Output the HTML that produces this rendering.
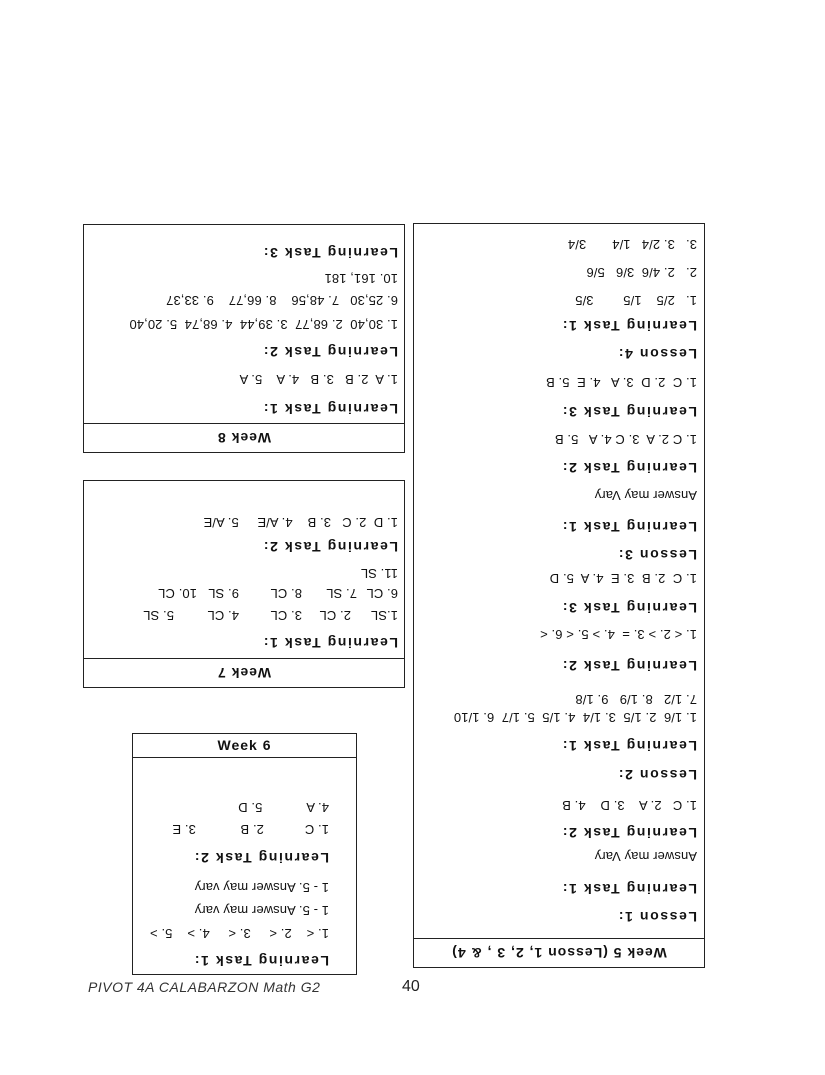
<!DOCTYPE html>
<html><head><meta charset="utf-8"><style>
body{margin:0;background:#fff;}
#p{position:relative;width:825px;height:1075px;overflow:hidden;background:#fff;font-family:"Liberation Sans",sans-serif;color:#111;}
.b{position:absolute;box-sizing:border-box;}
.r{transform:rotate(180deg);}
.l{position:absolute;white-space:pre;font-size:13px;line-height:16px;letter-spacing:0.1px;}
.h{font-weight:bold;font-size:14px;letter-spacing:1.6px;}
.hd{position:absolute;left:0;right:0;top:0;height:28px;border-bottom:1px solid #222;text-align:center;font-weight:bold;font-size:14px;line-height:28px;letter-spacing:1px;}
</style></head><body><div id="p">

<!-- Week 5 -->
<div class="b r" style="left:413px;top:223px;width:292px;height:745px;border:1px solid #222;">
<div class="hd">Week 5 (Lesson 1, 2, 3 , &amp; 4)</div>
<div class="l h" style="left:7px;top:42px">Lesson 1:</div>
<div class="l h" style="left:7px;top:70px">Learning Task 1:</div>
<div class="l" style="left:7px;top:103px">Answer may Vary</div>
<div class="l h" style="left:7px;top:126px">Learning Task 2:</div>
<div class="l" style="left:7px;top:154px">1. C   2. A    3. D    4. B</div>
<div class="l h" style="left:7px;top:184px">Lesson 2:</div>
<div class="l h" style="left:7px;top:213px">Learning Task 1:</div>
<div class="l" style="left:7px;top:242px">1. 1/6  2. 1/5  3. 1/4  4. 1/5  5. 1/7  6. 1/10</div>
<div class="l" style="left:7px;top:260px">7. 1/2   8. 1/9   9. 1/8</div>
<div class="l h" style="left:7px;top:293px">Learning Task 2:</div>
<div class="l" style="left:7px;top:325px">1. &lt; 2. &gt; 3. =  4. &gt; 5. &lt; 6. &lt;</div>
<div class="l h" style="left:7px;top:351px">Learning Task 3:</div>
<div class="l" style="left:7px;top:381px">1. C  2. B  3. E  4. A  5. D</div>
<div class="l h" style="left:7px;top:404px">Lesson 3:</div>
<div class="l h" style="left:7px;top:432px">Learning Task 1:</div>
<div class="l" style="left:7px;top:464px">Answer may Vary</div>
<div class="l h" style="left:7px;top:491px">Learning Task 2:</div>
<div class="l" style="left:7px;top:520px">1. C 2. A  3. C 4. A   5. B</div>
<div class="l h" style="left:7px;top:547px">Learning Task 3:</div>
<div class="l" style="left:7px;top:577px">1. C  2. D  3. A   4. E  5. B</div>
<div class="l h" style="left:7px;top:605px">Lesson 4:</div>
<div class="l h" style="left:7px;top:633px">Learning Task 1:</div>
<div class="l" style="left:7px;top:659px">1.   2/5    1/5        3/5</div>
<div class="l" style="left:7px;top:687px">2.   2. 4/6  3/6   5/6</div>
<div class="l" style="left:7px;top:715px">3.   3. 2/4   1/4       3/4</div>
</div>

<!-- Week 8 -->
<div class="b r" style="left:83px;top:224px;width:322px;height:229px;border:1px solid #222;">
<div class="hd">Week 8</div>
<div class="l h" style="left:6px;top:35px">Learning Task 1:</div>
<div class="l" style="left:6px;top:65px">1. A  2. B   3. B   4. A    5. A</div>
<div class="l h" style="left:6px;top:92px">Learning Task 2:</div>
<div class="l" style="left:6px;top:120px">1. 30,40  2. 68,77  3. 39,44  4. 68,74  5. 20,40</div>
<div class="l" style="left:6px;top:144px">6. 25,30   7. 48,56    8. 66,77    9. 33,37</div>
<div class="l" style="left:6px;top:166px">10. 161, 181</div>
<div class="l h" style="left:6px;top:191px">Learning Task 3:</div>
</div>

<!-- Week 7 -->
<div class="b r" style="left:83px;top:480px;width:322px;height:208px;border:1px solid #222;">
<div class="hd">Week 7</div>
<div class="l h" style="left:6px;top:36px">Learning Task 1:</div>
<div class="l" style="left:6px;top:64px">1.SL</div><div class="l" style="left:53px;top:64px">2. CL</div><div class="l" style="left:102px;top:64px">3. CL</div><div class="l" style="left:165px;top:64px">4. CL</div><div class="l" style="left:230px;top:64px">5. SL</div>
<div class="l" style="left:6px;top:86px">6. CL</div><div class="l" style="left:47px;top:86px">7. SL</div><div class="l" style="left:102px;top:86px">8. CL</div><div class="l" style="left:165px;top:86px">9. SL</div><div class="l" style="left:207px;top:86px">10. CL</div>
<div class="l" style="left:6px;top:106px">11. SL</div>
<div class="l h" style="left:6px;top:132px">Learning Task 2:</div>
<div class="l" style="left:6px;top:157px">1. D  2. C   3. B    4. A/E     5. A/E</div>
</div>

<!-- Week 6 -->
<div class="b" style="left:132px;top:733px;width:225px;height:242px;border:1px solid #222;">
<div class="hd" style="height:23px;line-height:23px;">Week 6</div>
<div class="b r" style="left:0;top:23px;width:223px;height:218px;">
<div class="l h" style="left:27px;top:6px">Learning Task 1:</div>
<div class="l" style="left:27px;top:34px">1. &lt;    2. &lt;     3. &lt;     4. &gt;    5. &gt;</div>
<div class="l" style="left:27px;top:57px">1 - 5. Answer may vary</div>
<div class="l" style="left:27px;top:80px">1 - 5. Answer may vary</div>
<div class="l h" style="left:27px;top:109px">Learning Task 2:</div>
<div class="l" style="left:27px;top:138px">1. C           2. B            3. E</div>
<div class="l" style="left:27px;top:160px">4. A            5. D</div>
</div>
</div>

<div style="position:absolute;left:88px;top:979px;font-size:14px;font-style:italic;color:#333;letter-spacing:0.5px;">PIVOT 4A CALABARZON Math G2</div>
<div style="position:absolute;left:402px;top:978px;font-size:16px;color:#222;">40</div>

</div></body></html>
